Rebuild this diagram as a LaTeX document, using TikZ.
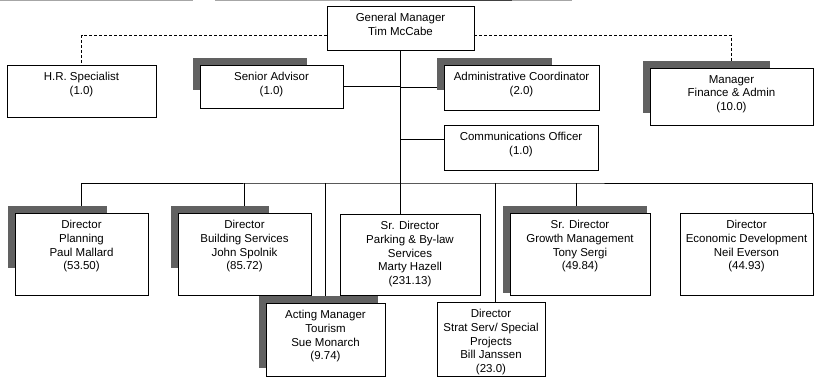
\documentclass[tikz,border=0pt]{standalone}
\usepackage{fontspec}
\setmainfont{Liberation Sans}
\pgfdeclarelayer{background}
\pgfdeclarelayer{shadowlayer}
\pgfsetlayers{background,shadowlayer,main}

\tikzset{
  box/.style={draw, line width=0.8pt, fill=white, inner sep=0pt},
  shadowfill/.style={fill=black!62},
  caption/.style={anchor=north, align=center, inner sep=0pt,
      font=\fontsize{11.5}{13.7}\selectfont},
  link/.style={line width=0.7pt},
  dashlink/.style={line width=0.7pt, dash pattern=on 3pt off 2pt},
  edge/.style={line width=1pt}
}

% \unitbox{name}{left}{top}{right}{bottom}{text}
\newcommand\unitbox[6]{%
  \node[box, minimum width={(#4-#2)*1pt}, minimum height={(#5-#3)*1pt}]
    (#1) at ({(#2+#4)/2},{(#3+#5)/2}) {};
  \node[caption] (#1-t) at ([yshift=-7.5pt]#1.north) {#6};}

% \shadowfor{name}{right end of top strip}{bottom end of left strip}
\newcommand\shadowfor[3]{%
  \begin{pgfonlayer}{shadowlayer}
    \fill[shadowfill] ([xshift=-7pt,yshift=7pt]#1.north west) rectangle (#2,#3);
  \end{pgfonlayer}}

\begin{document}
\begin{tikzpicture}[x=1pt,y=-1pt]
\useasboundingbox (0,0) rectangle (814,377);

% faint trimmed edge along the top
\draw[edge, black!35] (0,0.5) -- (193,0.5);
\draw[edge, black!35] (215,0.5) -- (572,0.5);
\draw[edge, black!75] (350,0.5) -- (512,0.5);

% top level
\unitbox{gm}{327}{6}{474}{50}{General Manager\\Tim McCabe}

% staff units
\unitbox{hr}{7}{65}{156}{117}{H.R. Specialist\\(1.0)}
\unitbox{sa}{200}{65}{343}{108}{Senior Advisor\\(1.0)}
\shadowfor{sa}{307}{90}
\unitbox{ac}{444}{65}{599}{110}{Administrative Coordinator\\(2.0)}
\shadowfor{ac}{552}{90}
\unitbox{mf}{650}{68}{813}{125}{Manager\\Finance \& Admin\\(10.0)}
\shadowfor{mf}{770}{113}
\unitbox{co}{444}{125}{598}{170}{Communications Officer\\(1.0)}

% directors
\unitbox{dp}{15}{213}{148}{295}{Director\\Planning\\Paul Mallard\\(53.50)}
\shadowfor{dp}{107}{268}
\unitbox{bs}{178}{213}{311}{295}{Director\\Building Services\\John Spolnik\\(85.72)}
\shadowfor{bs}{269}{268}
\unitbox{pk}{340}{214}{480}{295}{Sr. Director\\Parking \& By-law\\Services\\Marty Hazell\\(231.13)}
\unitbox{gr}{510}{213}{650}{295}{Sr. Director\\Growth Management\\Tony Sergi\\(49.84)}
\shadowfor{gr}{647}{293}
\unitbox{ed}{680}{213}{813}{295}{Director\\Economic Development\\Neil Everson\\(44.93)}

% lower row
\unitbox{am}{266}{303}{385}{376}{Acting Manager\\Tourism\\Sue Monarch\\(9.74)}
\shadowfor{am}{378}{368}
\unitbox{ss}{437}{302}{545}{376}{Director\\Strat Serv/ Special\\Projects\\Bill Janssen\\(23.0)}

\begin{pgfonlayer}{background}
  % dotted-line reporting
  \draw[dashlink] ([yshift=-7pt]gm.west) -| (hr.north);
  \draw[dashlink] ([yshift=-7pt]gm.east) -| (mf.north);
  % trunk and staff links
  \draw[link] (gm.south) -- (gm.south |- pk.north);
  \draw[link] (sa.east) -- (sa.east -| gm.south);
  \draw[link] (ac.west -| gm.south) -- (ac.west);
  \coordinate (cojoin) at ([yshift=8.5pt]co.west);
  \draw[link] (cojoin -| gm.south) -- (cojoin);
  % director bus
  \coordinate (bus) at (401,183);
  \coordinate (edrop) at ([xshift=-1.5pt]ed.north east);
  \draw[link] (dp.north) |- (bus) -| (edrop);
  \draw[link] (bs.north) -- (bs.north |- bus);
  \draw[link] (am.north) -- (am.north |- bus);
  \coordinate (ssdrop) at ([xshift=4pt]ss.north);
  \draw[link] (ssdrop) -- (ssdrop |- bus);
  \coordinate (grdrop) at ([xshift=-4pt]gr.north);
  \draw[link] (grdrop) -- (grdrop |- bus);
\end{pgfonlayer}
\end{tikzpicture}
\end{document}
